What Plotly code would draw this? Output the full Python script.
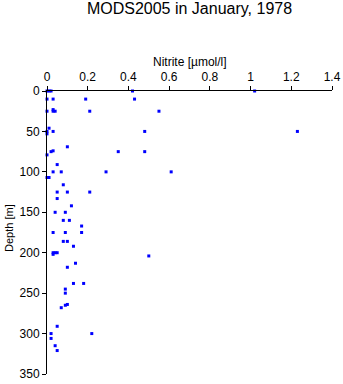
import plotly.graph_objects as go

nitrite = [0.0, 0.01, 0.02, 0.42, 1.02,
           0.0, 0.03, 0.19, 0.43,
           0.0, 0.03, 0.04, 0.21, 0.55, 0.03,
           0.0, 0.03, 0.48, 1.23, 0.01, 0.0,
           0.10, 0.02, 0.03, 0.35, 0.48, 0.0, 0.05,
           0.03, 0.07, 0.29, 0.61, 0.0, 0.01,
           0.08, 0.05, 0.10, 0.21, 0.05, 0.12,
           0.04, 0.09, 0.08, 0.11, 0.17,
           0.03, 0.09, 0.17, 0.08, 0.10, 0.13,
           0.03, 0.04, 0.05, 0.03, 0.50, 0.14, 0.10,
           0.13, 0.18, 0.09, 0.09, 0.10, 0.09, 0.07,
           0.05, 0.02, 0.22, 0.02, 0.04, 0.05]
depth = [0, 0, 0, 0, 0,
         10, 10, 10, 10,
         25, 25, 25, 25, 25, 23,
         50, 50, 50, 50, 46, 53,
         69, 75, 74, 75, 75, 79, 91,
         100, 100, 100, 100, 107, 107,
         116, 125, 125, 125, 133, 142,
         150, 150, 160, 160, 167,
         175, 175, 175, 186, 186, 192,
         200, 200, 200, 202, 204, 213, 218,
         238, 238, 245, 250, 264, 265, 268,
         291, 300, 300, 306, 315, 321]

x_ticks = [0, 0.2, 0.4, 0.6, 0.8, 1, 1.2, 1.4]
x_ticklabels = ["0", "0.2", "0.4", "0.6", "0.8", "1", "1.2", "1.4"]
y_ticks = [0, 50, 100, 150, 200, 250, 300, 350]

fig = go.Figure(go.Scatter(
    x=nitrite, y=depth, mode="markers",
    marker=dict(symbol="square", size=3, color="#0000ff", line=dict(width=0)),
    cliponaxis=False, showlegend=False))

font = "Liberation Sans, Arial, sans-serif"
fig.update_layout(
    width=343, height=384,
    margin=dict(l=47, r=11, t=91, b=10, autoexpand=False),
    paper_bgcolor="white", plot_bgcolor="white",
    font=dict(family=font, size=12, color="black"),
    title=dict(text="MODS2005 in January, 1978", x=0.5, xref="paper", xanchor="center",
               y=1 - 8/384, yanchor="middle", font=dict(size=16)),
    xaxis=dict(side="top", range=[0, 1.4], tickvals=x_ticks, ticktext=x_ticklabels,
               automargin=False,
               showgrid=False, zeroline=False, showline=True, linecolor="black",
               linewidth=1, ticks="outside", ticklen=4, tickcolor="black",
               tickfont=dict(size=12)),
    yaxis=dict(range=[350, 0], tickvals=y_ticks, showgrid=False, zeroline=False,
               automargin=False,
               showline=True, linecolor="black", linewidth=1, ticks="outside",
               ticklen=4, tickcolor="black", tickfont=dict(size=12)),
    annotations=[
        dict(text="Nitrite [µmol/l]", xref="paper", yref="paper",
             x=0.5, y=(374 - 62) / 283, xanchor="center", yanchor="middle",
             showarrow=False, font=dict(size=12)),
        dict(text="Depth [m]", xref="paper", yref="paper", textangle=-90,
             x=(9 - 47) / 285, y=(374 - 228) / 283, xanchor="center", yanchor="middle",
             showarrow=False, font=dict(size=11)),
    ],
)
fig.write_html("out.html")
